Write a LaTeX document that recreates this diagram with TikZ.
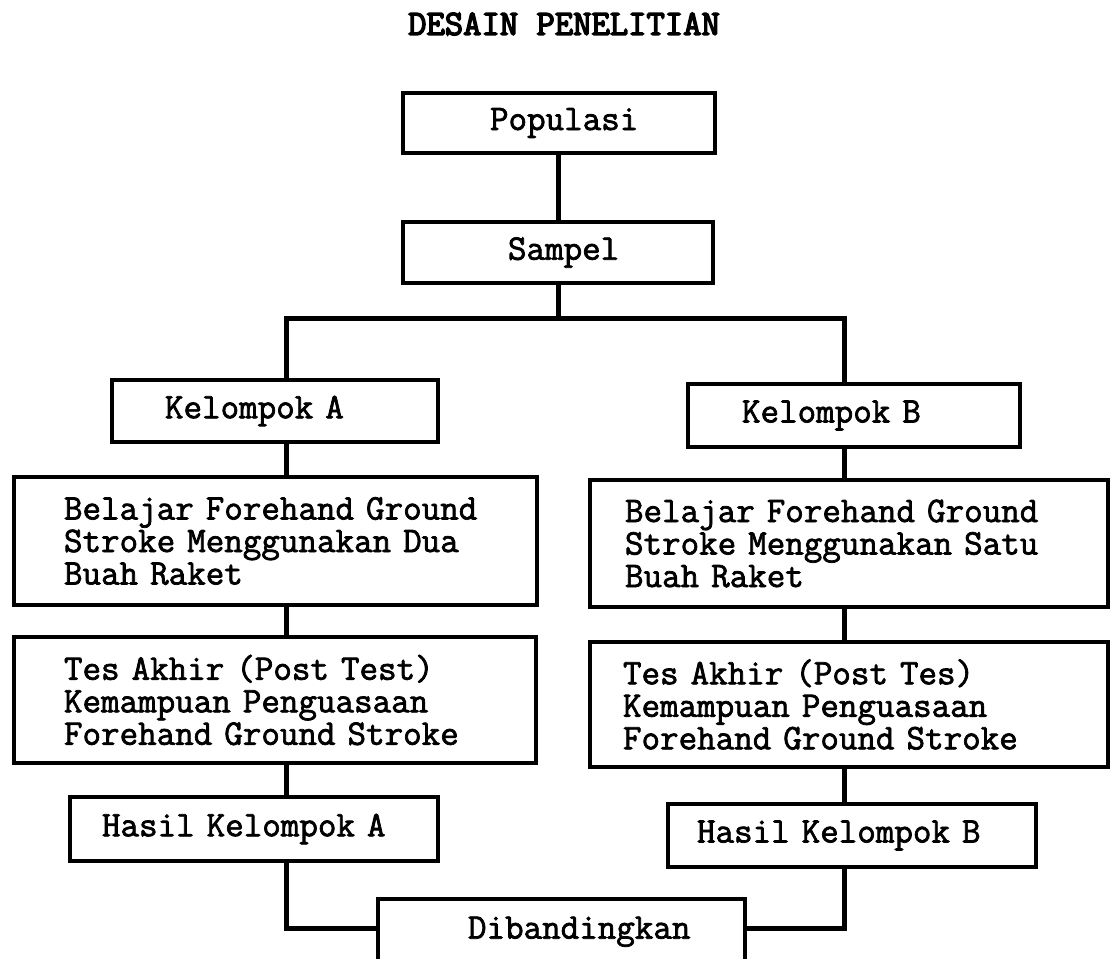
\documentclass[tikz,border=0pt]{standalone}
\usepackage{fontspec}
\newfontfamily\bodyfont{Latin Modern Mono}[FakeBold=2]
\newfontfamily\titlefont{Latin Modern Mono}[FakeBold=4]
\begin{document}
\begin{tikzpicture}[x=1pt,y=-1pt,
  box/.style={draw,line width=3.5pt,font=\bodyfont\fontsize{36}{32.5}\selectfont,
    inner xsep=0pt,inner ysep=0pt,align=left},
  ind/.style={execute at begin node={\leftskip=#1pt\relax}},
  conn/.style={draw,line width=5pt}]
\useasboundingbox (0,0) rectangle (1110,958);
\clip (0,0) rectangle (1110,958);
\node[font=\titlefont\fontsize{35.6}{36}\selectfont] (title) at (564,24) {DESAIN PENELITIAN};
\node[box,text width=312pt,minimum height=60pt,ind=87] (pop) at (559,123) {Populasi};
\node[box,text width=310pt,minimum height=61pt,ind=105] (sam) at (558,252.5) {Sampel};
\node[box,text width=326pt,minimum height=62pt,ind=53] (kelA) at (275,411) {Kelompok A};
\node[box,text width=332pt,minimum height=63pt,ind=54] (kelB) at (854,415.5) {Kelompok B};
\node[box,text width=523pt,minimum height=128pt,ind=50] (belA) at (275.5,541) {Belajar Forehand Ground\\Stroke Menggunakan Dua\\Buah Raket};
\node[box,text width=518pt,minimum height=127pt,ind=35] (belB) at (849,543.5) {Belajar Forehand Ground\\Stroke Menggunakan Satu\\Buah Raket};
\node[box,text width=522pt,minimum height=126pt,ind=50] (tesA) at (275,700) {Tes Akhir (Post Test)\\Kemampuan Penguasaan\\Forehand Ground Stroke};
\node[box,text width=518pt,minimum height=125pt,ind=33] (tesB) at (849,704.5) {Tes Akhir (Post Tes)\\Kemampuan Penguasaan\\Forehand Ground Stroke};
\node[box,text width=368pt,minimum height=64pt,ind=32] (hasA) at (254,829) {Hasil Kelompok A};
\node[box,text width=368pt,minimum height=63pt,ind=29] (hasB) at (852,835.5) {Hasil Kelompok B};
\node[box,text width=367pt,minimum height=66pt,ind=90,anchor=north] (dib) at (561.5,897) {Dibandingkan};
\coordinate (bl) at (286,318);
\coordinate (br) at (844,318);
\coordinate (jl) at (286,928);
\coordinate (jr) at (844,928);
\draw[conn] (pop.south -| sam.south) -- (sam.north);
\draw[conn] (sam.south) -- (sam.south |- bl);
\draw[conn] (kelA.north -| bl) -- (bl) -- (br) -- (kelB.north -| br);
\draw[conn] (kelA.south -| bl) -- (belA.north -| bl);
\draw[conn] (belA.south -| bl) -- (tesA.north -| bl);
\draw[conn] (tesA.south -| bl) -- (hasA.north -| bl);
\draw[conn] (hasA.south -| jl) -- (jl) -- (dib.west |- jl);
\draw[conn] (kelB.south -| br) -- (belB.north -| br);
\draw[conn] (belB.south -| br) -- (tesB.north -| br);
\draw[conn] (tesB.south -| br) -- (hasB.north -| br);
\draw[conn] (hasB.south -| jr) -- (jr) -- (dib.east |- jr);
\end{tikzpicture}
\end{document}
